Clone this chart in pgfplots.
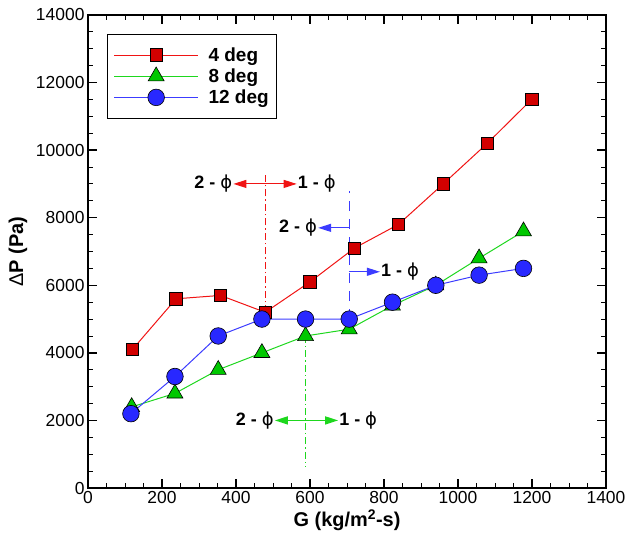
\documentclass[border=0pt]{standalone}
\usepackage{fontspec}
\setmainfont{Liberation Sans}
\newfontfamily\symf{DejaVu Sans}
\usepackage{pgfplots}
\pgfplotsset{compat=1.18}
\usetikzlibrary{arrows.meta}
\definecolor{rfill}{RGB}{210,0,0}
\definecolor{rline}{RGB}{240,20,20}
\definecolor{gfill}{RGB}{0,200,0}
\definecolor{gline}{RGB}{30,215,30}
\definecolor{bfill}{RGB}{40,40,255}
\definecolor{bline}{RGB}{60,60,255}
\newcommand{\ph}{{\symf\mdseries ϕ}}
\begin{document}
\begin{tikzpicture}
\begin{axis}[
  scale only axis, width=518bp, height=473bp,
  xmin=0, xmax=1400, ymin=0, ymax=14000,
  xtick={0,200,...,1400}, ytick={0,2000,...,14000},
  minor x tick num=3, minor y tick num=3,
  tick align=inside, xtick pos=both, ytick pos=both,
  major tick length=9bp, minor tick length=5bp,
  axis line style={line width=2.5bp},
  every tick/.style={black, line width=1.5bp},
  every minor tick/.style={black, line width=0.9bp},
  tick label style={font=\fontsize{17.5}{18}\selectfont},
  /pgf/number format/assume math mode=true,
  /pgf/number format/1000 sep={},
  scaled ticks=false,
  xlabel={G (kg/m\textsuperscript{2}-s)},
  ylabel={{\mdseries Δ}P (Pa)},
  every axis x label/.style={at={(axis description cs:0.5,-0.068)}, anchor=center, font=\bfseries\fontsize{20}{20}\selectfont},
  every axis y label/.style={at={(axis description cs:-0.135,0.5)}, anchor=center, rotate=90, font=\bfseries\fontsize{20}{20}\selectfont},
  legend style={at={(rel axis cs:0.037,0.96)}, anchor=north west, draw=black, line width=1bp,
    font=\bfseries\fontsize{19}{20}\selectfont, inner xsep=6bp, inner ysep=11bp, row sep=2bp},
  legend cell align=left,
  legend image code/.code={\draw[mark repeat=2,mark phase=2,#1] plot coordinates {(0bp,0bp)(42bp,0bp)(84bp,0bp)}; \path (92bp,0bp);},
  arr/.style={forget plot, no markers, line width=1.1bp, -{Triangle[length=13bp,width=8bp]}},
  vln/.style={forget plot, no markers, line width=1.1bp},
]
% annotations
\addplot[vln, color=rline, dash pattern=on 7bp off 3bp on 1.5bp off 3bp] coordinates {(480,5200)(480,9300)};
\addplot[arr, color=rline] coordinates {(480,9000)(393,9000)};
\addplot[arr, color=rline] coordinates {(480,9000)(564,9000)};
\node[anchor=east, inner sep=1bp, font=\bfseries\fontsize{18}{18}\selectfont] at (axis cs:393,9000) {2 - \ph};
\node[anchor=west, inner sep=1bp, font=\bfseries\fontsize{18}{18}\selectfont] at (axis cs:564,9000) {1 - \ph};
\addplot[vln, color=bline, dash pattern=on 10bp off 8bp] coordinates {(706,5000)(706,8800)};
\addplot[arr, color=bline] coordinates {(706,7700)(622,7700)};
\addplot[arr, color=bline] coordinates {(706,6400)(789,6400)};
\node[anchor=east, inner sep=1bp, font=\bfseries\fontsize{18}{18}\selectfont] at (axis cs:622,7700) {2 - \ph};
\node[anchor=west, inner sep=1bp, font=\bfseries\fontsize{18}{18}\selectfont] at (axis cs:789,6400) {1 - \ph};
\addplot[vln, color=gline, dash pattern=on 7bp off 3bp on 1.5bp off 3bp] coordinates {(588,4500)(588,620)};
\addplot[arr, color=gline, line width=1.4bp] coordinates {(588,2000)(505,2000)};
\addplot[arr, color=gline, line width=1.4bp] coordinates {(588,2000)(676,2000)};
\node[anchor=east, inner sep=1bp, font=\bfseries\fontsize{18}{18}\selectfont] at (axis cs:505,2000) {2 - \ph};
\node[anchor=west, inner sep=1bp, font=\bfseries\fontsize{18}{18}\selectfont] at (axis cs:676,2000) {1 - \ph};
% data
\addplot[color=rline, line width=1bp, mark=square*, mark size=6.3bp, mark options={draw=black, fill=rfill, line width=0.6bp}]
 coordinates {(120,4100)(238,5600)(358,5700)(479,5200)(600,6100)(720,7100)(839,7800)(960,9000)(1079,10200)(1199,11500)};
\addlegendentry{4 deg}
\addplot[color=gline, line width=1bp, mark=triangle*, mark size=9.2bp, mark options={draw=black, fill=gfill, line width=0.6bp}]
 coordinates {(118,2400)(235,2800)(352,3500)(470,4000)(588,4500)(706,4700)(823,5400)(940,6000)(1057,6800)(1177,7600)};
\addlegendentry{8 deg}
\addplot[color=bline, line width=1bp, mark=*, mark size=8.3bp, mark options={draw=black, fill=bfill, line width=0.6bp}]
 coordinates {(116,2200)(235,3300)(352,4500)(470,5000)(588,5000)(706,5000)(823,5500)(940,6000)(1057,6300)(1177,6500)};
\addlegendentry{12 deg}
\end{axis}
\pgfresetboundingbox
\path[use as bounding box] ([shift={(-88bp,-53bp)}]current axis.south west) rectangle ++(629bp,541bp);
\end{tikzpicture}
\end{document}
